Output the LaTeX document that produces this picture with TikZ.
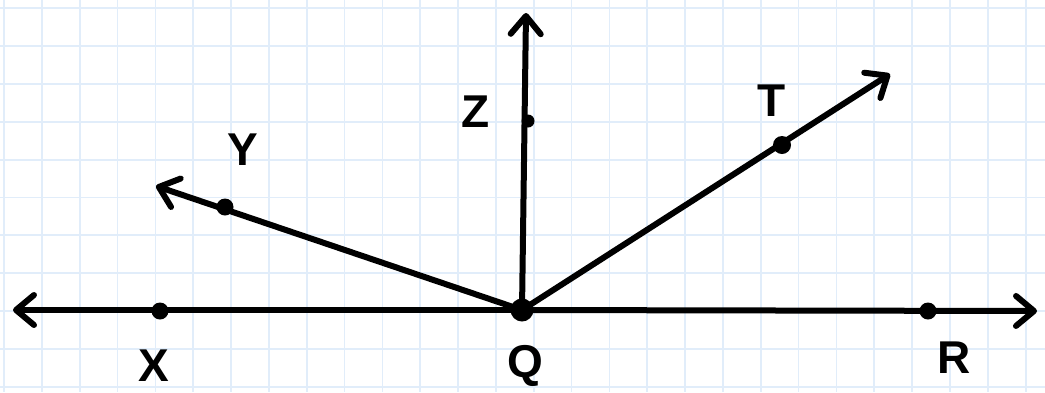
\documentclass[tikz,border=0pt]{standalone}
\usepackage{fontspec}
\setmainfont{Liberation Sans}
\usetikzlibrary{arrows.meta}
\definecolor{gridblue}{HTML}{E1EDFA}
\tikzset{
  ray/.style={line width=6pt, line cap=round, line join=round, -{Straight Barb[length=18pt,width=30pt,line cap=round,line join=round]}},
  dotpt/.style={circle, fill=black, inner sep=0pt, minimum size=#1},
  lbl/.style={font=\fontsize{46}{54}\selectfont\bfseries, inner sep=0pt}
}
\begin{document}
\begin{tikzpicture}[x=1pt,y=-1pt]
\useasboundingbox (0,0) rectangle (1045,392);
\fill[white] (0,0) rectangle (1045,392);
% grid
\foreach \k in {0,...,27} {
  \draw[gridblue, line width=1.7pt] ({4+37.84*\k},0) -- ({4+37.84*\k},392);
}
\foreach \k in {0,...,10} {
  \draw[gridblue, line width=1.7pt] (0,{8.3+37.84*\k}) -- (1045,{8.3+37.84*\k});
}
% points
\node[dotpt=23pt] (Q) at (522,310) {};
\node[dotpt=17pt] (X) at (160,311) {};
\node[dotpt=17pt] (R) at (928,311) {};
\node[dotpt=13pt] (Z) at (528,121) {};
\node[dotpt=17pt] (Y) at (225,207) {};
\node[dotpt=18pt] (T) at (782,145) {};
% arrow tips
\coordinate (L) at (13,310);
\coordinate (Rt) at (1037,311);
\coordinate (U) at (526,13);
\coordinate (YT) at (156,186);
\coordinate (TT) at (890,74);
% lines
\draw[ray] (Q.center) -- (L);
\draw[ray] (Q.center) -- (Rt);
\draw[ray] (Q.center) -- (U);
\draw[ray] (Q.center) -- (YT);
\draw[ray] (Q.center) -- (TT);
% labels
\node[lbl] (lX) at (154,366) {X};
\node[lbl] (lQ) at (525,366) {Q};
\node[lbl] (lR) at (954,358) {R};
\node[lbl] (lZ) at (476,112) {Z};
\node[lbl] (lY) at (243,150) {Y};
\node[lbl] (lT) at (772,101) {T};
\end{tikzpicture}
\end{document}
